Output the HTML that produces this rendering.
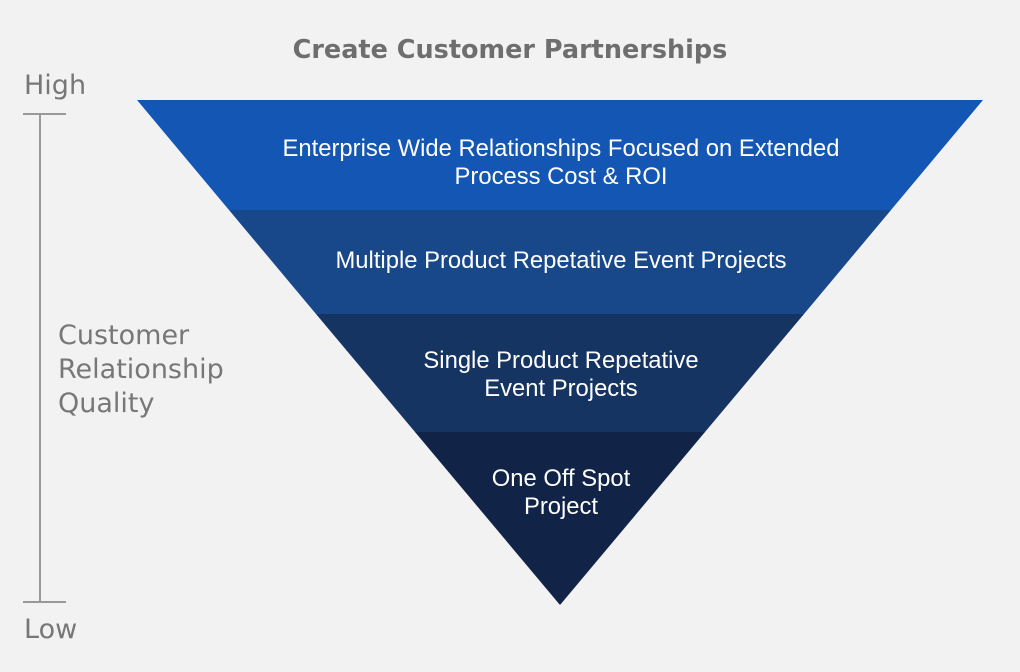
<!DOCTYPE html>
<html><head><style>
html,body{margin:0;padding:0;background:#f2f2f2;}
body{width:1020px;height:672px;position:relative;overflow:hidden;font-family:"Liberation Sans",sans-serif;}
</style></head><body>
<svg width="1020" height="672" style="position:absolute;left:0;top:0">
<polygon points="137,100 983,100 891,210 229,210" fill="#1356b3"/>
<polygon points="229,210 891,210 804,314 316,314" fill="#184889"/>
<polygon points="316,314 804,314 705,432 415,432" fill="#153462"/>
<polygon points="415,432 705,432 560,605" fill="#112447"/>
<g stroke="#999" stroke-width="2">
<line x1="40" y1="113" x2="40" y2="602"/>
<line x1="23" y1="114" x2="66" y2="114"/>
<line x1="23" y1="602" x2="66" y2="602"/>
</g>
<g fill="#fff" font-family="Liberation Sans, sans-serif" font-size="23.8" text-anchor="middle">
<text x="561" y="156">Enterprise Wide Relationships Focused on Extended</text>
<text x="561" y="184">Process Cost &amp; ROI</text>
<text x="561" y="268">Multiple Product Repetative Event Projects</text>
<text x="561" y="368">Single Product Repetative</text>
<text x="561" y="396">Event Projects</text>
<text x="561" y="486">One Off Spot</text>
<text x="561" y="514">Project</text>
</g>
<g fill="#777" font-family="DejaVu Sans, sans-serif">
<text x="510" y="58" text-anchor="middle" font-size="25.5" font-weight="bold" fill="#6e6e6e">Create Customer Partnerships</text>
<text x="24" y="94" font-size="27">High</text>
<text x="24" y="638" font-size="27">Low</text>
<text x="58" y="344" font-size="27">Customer</text>
<text x="58" y="378" font-size="27">Relationship</text>
<text x="58" y="412" font-size="27">Quality</text>
</g>
</svg>
</body></html>
